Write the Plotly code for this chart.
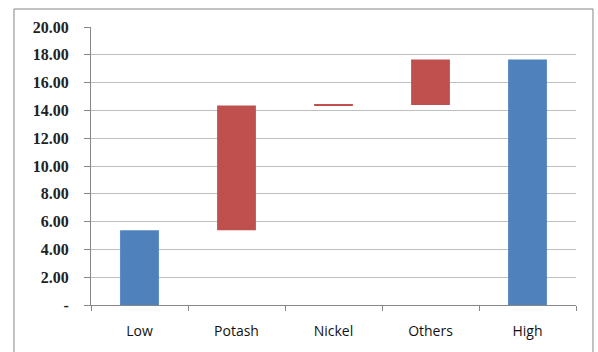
import plotly.graph_objects as go

categories = ["Low", "Potash", "Nickel", "Others", "High"]
measures = ["absolute", "relative", "relative", "relative", "total"]
values = [5.38, 8.98, 0.03, 3.28, 0]
tick_vals = [0, 2, 4, 6, 8, 10, 12, 14, 16, 18, 20]
tick_text = ["-", "2.00", "4.00", "6.00", "8.00", "10.00", "12.00", "14.00", "16.00", "18.00", "20.00"]

fig = go.Figure(go.Waterfall(
    x=categories, y=values, measure=measures,
    increasing=dict(marker=dict(color="#C0504D")),
    decreasing=dict(marker=dict(color="#C0504D")),
    totals=dict(marker=dict(color="#4F81BD")),
    connector=dict(visible=False),
    hoverinfo="x+y",
))

fig.update_layout(
    width=598, height=352,
    margin=dict(l=91, r=22, t=27, b=47),
    paper_bgcolor="white", plot_bgcolor="white",
    showlegend=False,
    waterfallgap=0.6,
    font=dict(family="Liberation Sans", size=13, color="#000000"),
    xaxis=dict(
        showline=True, linecolor="#868686", linewidth=1,
        ticks="outside", ticklen=5, tickcolor="#868686", tickson="boundaries",
        ticklabelstandoff=13,
        showgrid=False,
        tickfont=dict(family="Open Sans", size=14, color="#111111"),
    ),
    yaxis=dict(
        range=[0, 20], tickvals=tick_vals, ticktext=tick_text,
        showline=True, linecolor="#868686", linewidth=1,
        ticks="outside", ticklen=6, tickcolor="#868686",
        showgrid=True, gridcolor="#BFBFBF", gridwidth=1,
        zeroline=False,
        ticklabelstandoff=12,
        tickfont=dict(family="Liberation Serif", size=16, color="#222222", weight="bold"),
    ),
    shapes=[dict(type="rect", xref="paper", yref="paper",
                 x0=-0.1588, x1=1.035, y0=-0.2, y1=1.0647,
                 line=dict(color="#868686", width=1), layer="below")],
)

fig.write_html("out.html")
